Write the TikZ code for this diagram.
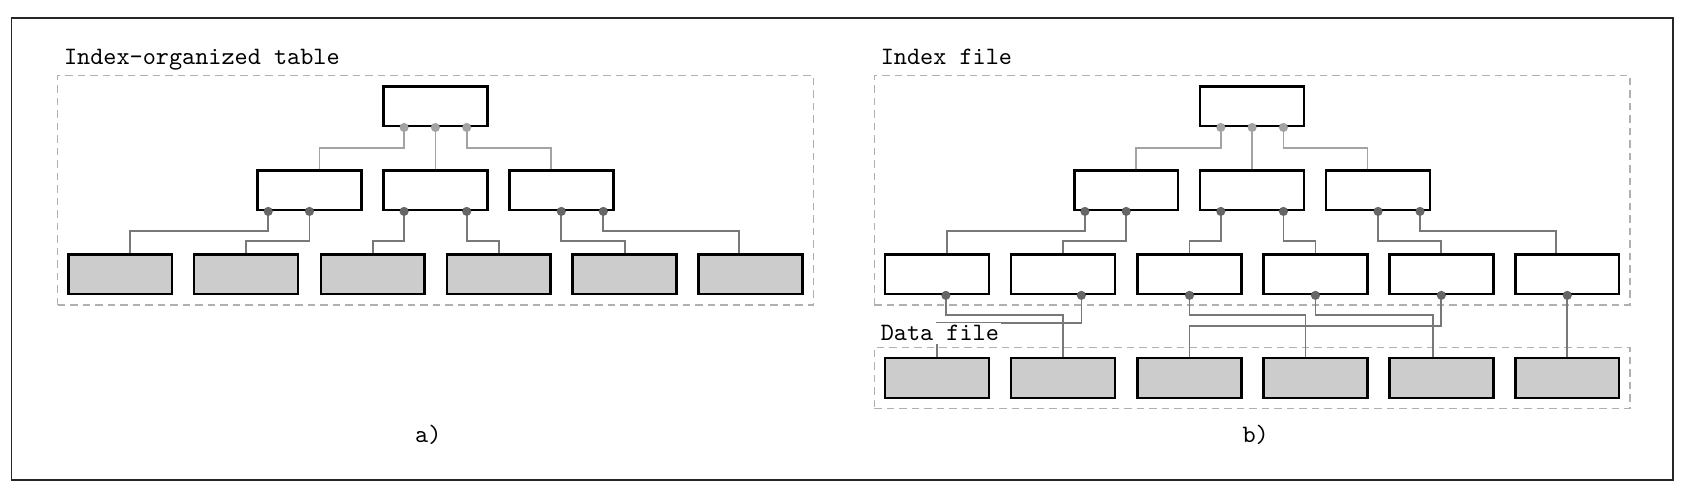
\documentclass[tikz,border=0pt]{standalone}
\usepackage{xcolor}
\usepackage{tikz}
\usetikzlibrary{arrows.meta, positioning, fit, shadows}
\definecolor{uplinkgray}{HTML}{A3A3A3}
\definecolor{downlinkgray}{HTML}{787878}
\definecolor{dotgray}{HTML}{666666}
\definecolor{areagray}{HTML}{B0B0B0}
\definecolor{leafgray}{HTML}{CCCCCC}

\begin{document}
\begin{tikzpicture}[
    block/.style={rectangle, draw=black, line width=1pt, fill=white,
                  minimum width=1.46cm, minimum height=0.56cm, inner sep=0pt,
                  drop shadow={shadow xshift=0.5pt, shadow yshift=-0.5pt, opacity=0.2}},
    record/.style={block, fill=leafgray},
    area/.style={rectangle, draw=areagray, line width=0.6pt,
                 dash pattern=on 3pt off 2pt, inner sep=3.8pt},
    tag/.style={font=\ttfamily, inner sep=1pt, fill=white, anchor=base west},
    caption/.style={font=\ttfamily, inner sep=1pt, anchor=base},
    uplink/.style={{Circle[length=3.6pt, color=uplinkgray]}-, shorten <=-1.8pt,
                   draw=uplinkgray, line width=0.7pt},
    downlink/.style={{Circle[length=3.6pt, color=dotgray]}-, shorten <=-1.8pt,
                     draw=downlinkgray, line width=0.7pt}
  ]
    \useasboundingbox (0,0) rectangle (23.755,6.944);
    \draw[line width=0.7pt, draw=black!85] (0.16,0.2) rectangle (23.52,6.69);

    % a) Index-organized table
    \node[block]  (aroot) at (6.12, 5.45) {};
    \node[block]  (am1)   at (4.35, 4.27) {};
    \node[block]  (am2)   at (6.12, 4.27) {};
    \node[block]  (am3)   at (7.89, 4.27) {};
    \node[record] (al1)   at (1.69, 3.09) {};
    \node[record] (al2)   at (3.46, 3.09) {};
    \node[record] (al3)   at (5.24, 3.09) {};
    \node[record] (al4)   at (7.01, 3.09) {};
    \node[record] (al5)   at (8.78, 3.09) {};
    \node[record] (al6)   at (10.55, 3.09) {};
    \node[area, fit=(aroot)(al1)(al6)] (atree) {};

    % b) Index file + data file
    \node[block]  (broot) at (17.60, 5.45) {};
    \node[block]  (bm1)   at (15.83, 4.27) {};
    \node[block]  (bm2)   at (17.60, 4.27) {};
    \node[block]  (bm3)   at (19.37, 4.27) {};
    \node[block]  (bl1)   at (13.17, 3.09) {};
    \node[block]  (bl2)   at (14.94, 3.09) {};
    \node[block]  (bl3)   at (16.72, 3.09) {};
    \node[block]  (bl4)   at (18.49, 3.09) {};
    \node[block]  (bl5)   at (20.26, 3.09) {};
    \node[block]  (bl6)   at (22.03, 3.09) {};
    \node[record] (bd1)   at (13.17, 1.63) {};
    \node[record] (bd2)   at (14.94, 1.63) {};
    \node[record] (bd3)   at (16.72, 1.63) {};
    \node[record] (bd4)   at (18.49, 1.63) {};
    \node[record] (bd5)   at (20.26, 1.63) {};
    \node[record] (bd6)   at (22.03, 1.63) {};
    \node[area, fit=(broot)(bl1)(bl6)] (bindex) {};
    \node[area, fit=(bd1)(bd6)] (bdata) {};

    % Root -> inner
    \draw[uplink] ([xshift=-0.44cm]aroot.south) -- ++(0,-0.29) -| ([xshift=0.14cm]am1.north);
    \draw[uplink] (aroot.south) -- (am2.north);
    \draw[uplink] ([xshift=0.44cm]aroot.south) -- ++(0,-0.29) -| ([xshift=-0.15cm]am3.north);
    \draw[uplink] ([xshift=-0.44cm]broot.south) -- ++(0,-0.29) -| ([xshift=0.14cm]bm1.north);
    \draw[uplink] (broot.south) -- (bm2.north);
    \draw[uplink] ([xshift=0.44cm]broot.south) -- ++(0,-0.29) -| ([xshift=-0.15cm]bm3.north);

    % Inner -> leaves
    \draw[downlink] ([xshift=-0.58cm]am1.south) -- ++(0,-0.28) -| ([xshift=0.14cm]al1.north);
    \draw[downlink] (am1.south) -- ++(0,-0.42) -| (al2.north);
    \draw[downlink] ([xshift=-0.44cm]am2.south) -- ++(0,-0.42) -| (al3.north);
    \draw[downlink] ([xshift=0.44cm]am2.south) -- ++(0,-0.42) -| (al4.north);
    \draw[downlink] (am3.south) -- ++(0,-0.42) -| (al5.north);
    \draw[downlink] ([xshift=0.59cm]am3.south) -- ++(0,-0.28) -| ([xshift=-0.16cm]al6.north);
    \draw[downlink] ([xshift=-0.58cm]bm1.south) -- ++(0,-0.28) -| ([xshift=0.14cm]bl1.north);
    \draw[downlink] (bm1.south) -- ++(0,-0.42) -| (bl2.north);
    \draw[downlink] ([xshift=-0.44cm]bm2.south) -- ++(0,-0.42) -| (bl3.north);
    \draw[downlink] ([xshift=0.44cm]bm2.south) -- ++(0,-0.42) -| (bl4.north);
    \draw[downlink] (bm3.south) -- ++(0,-0.42) -| (bl5.north);
    \draw[downlink] ([xshift=0.59cm]bm3.south) -- ++(0,-0.28) -| ([xshift=-0.16cm]bl6.north);

    % Index leaves -> data records
    \draw[downlink] ([xshift=0.125cm]bl1.south) -- ++(0,-0.28) -| (bd2.north);
    \draw[downlink] ([xshift=0.26cm]bl2.south) -- ++(0,-0.39) -| (bd1.north);
    \draw[downlink] (bl3.south) -- ++(0,-0.28) -| ([xshift=-0.14cm]bd4.north);
    \draw[downlink] (bl4.south) -- ++(0,-0.28) -| ([xshift=-0.12cm]bd5.north);
    \draw[downlink] (bl5.south) -- ++(0,-0.43) -| (bd3.north);
    \draw[downlink] (bl6.south) -- (bd6.north);

    % Labels
    \node[tag] (atitle) at ([shift={(0.06,0.15)}]atree.north west) {Index-organized table};
    \node[tag] (btitle) at ([shift={(0.06,0.15)}]bindex.north west) {Index file};
    \node[tag] (dtitle) at ([shift={(0.06,0.08)}]bdata.north west) {Data file};
    \node[caption] (acap) at (6.02, 0.73) {a)};
    \node[caption] (bcap) at (17.65, 0.73) {b)};
  \end{tikzpicture}
\end{document}
